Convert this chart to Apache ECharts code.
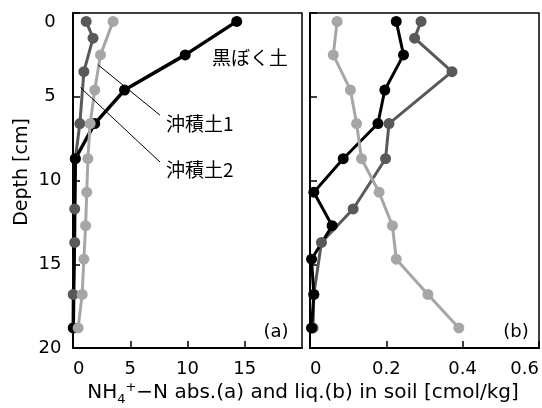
<!DOCTYPE html>
<html>
<head>
<meta charset="utf-8">
<script src="https://cdn.jsdelivr.net/npm/echarts@6/dist/echarts.min.js"></script>
<style>
html, body { margin: 0; padding: 0; background: #fff; }
#chart { width: 542px; height: 408px; }
</style>
</head>
<body>
<div id="chart"></div>
<script>
// depths [cm]
var depthMain = [0.5, 2.5, 4.6, 6.6, 8.7, 10.7, 12.7, 14.7, 16.8, 18.8];
var depthAlluvial2 = [0.5, 1.5, 3.5, 6.6, 8.7, 11.7, 13.7, 16.8, 18.8];

// (a) abs. [cmol/kg]
var absKuroboku = [14.3, 9.8, 4.5, 1.9, 0.2, null, null, null, null, 0.02];
var absAlluvial1 = [3.5, 2.4, 1.9, 1.5, 1.3, 1.2, 1.1, 0.95, 0.8, 0.45];
var absAlluvial2 = [1.15, 1.75, 0.95, 0.6, 0.2, 0.15, 0.15, 0.02, 0.05];

// (b) liq. [cmol/kg]
var liqKuroboku = [0.226, 0.245, 0.196, 0.178, 0.087, 0.010, 0.058, 0.004, 0.010, 0.004];
var liqAlluvial1 = [0.071, 0.061, 0.106, 0.122, 0.135, 0.181, 0.216, 0.226, 0.309, 0.390];
var liqAlluvial2 = [0.291, 0.274, 0.372, 0.207, 0.198, 0.113, 0.030, 0.010, 0.008];

var depthTicks = [0, 5, 10, 15, 20];

var LATIN = 'DejaVu Sans';
var CJK = '"Noto Sans CJK JP"';

function pairs(vals, depths) {
	var out = [];
	vals.forEach(function(v, i) {
		if (v !== null) out.push([v, depths[i]]);
	});
	return out;
}

function line(name, data, idx, color, width, extra) {
	var s = {
		name: name,
		type: 'line',
		xAxisIndex: idx,
		yAxisIndex: idx,
		data: data,
		symbol: 'circle',
		symbolSize: 11,
		showSymbol: true,
		lineStyle: { color: color, width: width },
		itemStyle: { color: color },
		emphasis: { disabled: true },
		animation: false
	};
	if (extra) {
		for (var k in extra) s[k] = extra[k];
	}
	return s;
}

var leaderLines = {
	markLine: {
		silent: true,
		symbol: ['none', 'none'],
		label: { show: false },
		lineStyle: { color: '#000', width: 1, type: 'solid' },
		emphasis: { disabled: true },
		animation: false,
		data: [
			[{ coord: [2.2, 3.1] }, { coord: [7.6, 6.1] }],
			[{ coord: [0.65, 4.45] }, { coord: [7.6, 8.9] }]
		]
	}
};

function xAxis(idx, max, interval, hideMax) {
	return {
		type: 'value',
		gridIndex: idx,
		min: 0,
		max: max,
		interval: interval,
		axisLine: { show: true, onZero: false, lineStyle: { color: '#000', width: 2 } },
		axisTick: { show: true, inside: true, length: 7, lineStyle: { color: '#000', width: 1.5 } },
		splitLine: { show: false },
		axisLabel: {
			color: '#000',
			fontFamily: LATIN,
			fontSize: 18,
			margin: 12,
			showMaxLabel: !hideMax,
			alignMinLabel: 'left',
			alignMaxLabel: 'right'
		}
	};
}

function yAxis(idx, showLabel) {
	return {
		type: 'value',
		gridIndex: idx,
		inverse: true,
		min: 0,
		max: 20,
		interval: 5,
		axisLine: { show: true, onZero: false, lineStyle: { color: '#000', width: 2 } },
		axisTick: { show: true, inside: true, length: 7, lineStyle: { color: '#000', width: 1.5 } },
		splitLine: { show: false },
		axisLabel: {
			show: showLabel,
			color: '#000',
			fontFamily: LATIN,
			fontSize: 18,
			margin: 23,
			align: 'center',
			formatter: function(v) {
				return v === depthTicks[0] ? '{z|' + v + '}' : String(v);
			},
			rich: {
				z: { fontFamily: LATIN, fontSize: 18, color: '#000', padding: [18, 0, 0, 0] }
			}
		}
	};
}

var chart = echarts.init(document.getElementById('chart'), null, { renderer: 'canvas' });

chart.setOption({
	animation: false,
	backgroundColor: '#fff',
	grid: [
		{ left: 73, top: 13, width: 229, height: 335, show: true, borderColor: '#000', borderWidth: 1.5, backgroundColor: 'transparent' },
		{ left: 310, top: 13, width: 230, height: 335, show: true, borderColor: '#000', borderWidth: 1.5, backgroundColor: 'transparent' }
	],
	xAxis: [xAxis(0, 20, 5, true), xAxis(1, 0.6, 0.2, false)],
	yAxis: [yAxis(0, true), yAxis(1, false)],
	series: [
		line('沖積土2', pairs(absAlluvial2, depthAlluvial2), 0, '#595959', 3),
		line('黒ぼく土', pairs(absKuroboku, depthMain), 0, '#000', 3.5),
		line('沖積土1', pairs(absAlluvial1, depthMain), 0, '#a6a6a6', 3, leaderLines),
		line('沖積土2', pairs(liqAlluvial2, depthAlluvial2), 1, '#595959', 3),
		line('黒ぼく土', pairs(liqKuroboku, depthMain), 1, '#000', 3),
		line('沖積土1', pairs(liqAlluvial1, depthMain), 1, '#a6a6a6', 3)
	],
	graphic: [
		{ type: 'text', x: 212, y: 58, style: { text: '黒ぼく土', font: '19px ' + CJK, fill: '#000', textAlign: 'left', textVerticalAlign: 'middle' } },
		{ type: 'text', x: 166, y: 124, style: { text: '沖積土1', font: '19px ' + CJK, fill: '#000', textAlign: 'left', textVerticalAlign: 'middle' } },
		{ type: 'text', x: 166, y: 170, style: { text: '沖積土2', font: '19px ' + CJK, fill: '#000', textAlign: 'left', textVerticalAlign: 'middle' } },
		{ type: 'text', x: 276, y: 332, style: { text: '(a)', font: '18px ' + LATIN, fill: '#000', textAlign: 'center', textVerticalAlign: 'middle' } },
		{ type: 'text', x: 516, y: 332, style: { text: '(b)', font: '18px ' + LATIN, fill: '#000', textAlign: 'center', textVerticalAlign: 'middle' } },
		{ type: 'text', x: 22, y: 172, rotation: Math.PI / 2, style: { text: 'Depth [cm]', font: '19px ' + LATIN, fill: '#000', textAlign: 'center', textVerticalAlign: 'middle' } },
		{
			type: 'text', x: 303, y: 393,
			style: {
				text: '{n|NH}{sub|4}{sup|+}{n|\u2212N abs.(a) and liq.(b) in soil [cmol/kg]}',
				textAlign: 'center',
				textVerticalAlign: 'middle',
				fill: '#000',
				rich: {
					n: { fontFamily: LATIN, fontSize: 20, fill: '#000' },
					sub: { fontFamily: LATIN, fontSize: 13, fill: '#000', padding: [14, 0, 0, 0] },
					sup: { fontFamily: LATIN, fontSize: 13, fill: '#000', padding: [0, 0, 11, 0] }
				}
			}
		}
	]
});
</script>
</body>
</html>
